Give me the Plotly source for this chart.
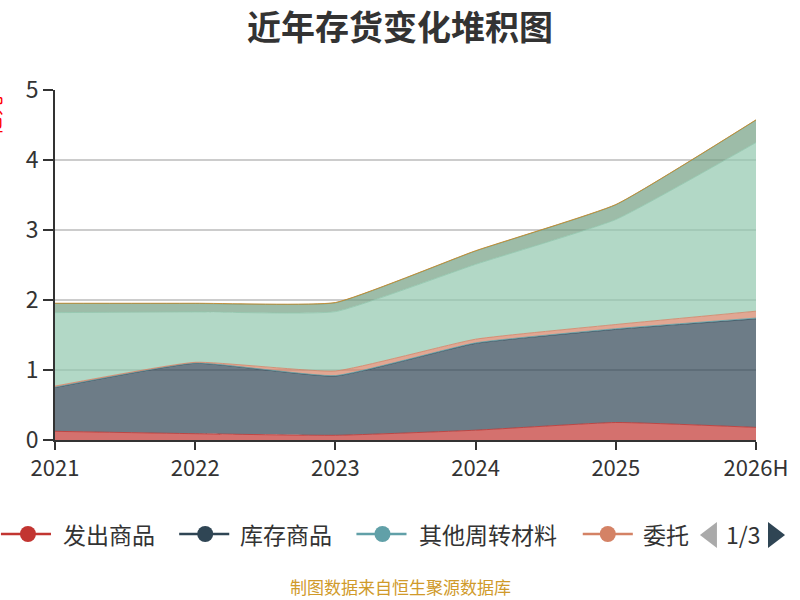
import plotly.graph_objects as go

# 数据
years = ["2021", "2022", "2023", "2024", "2025", "2026H"]
series_names = ["发出商品", "库存商品", "其他周转材料", "委托加工物资", "原材料", "在产品", "周转材料"]
series_colors = ["#c23531", "#2f4554", "#61a0a8", "#d48265", "#91c7ae", "#749f83", "#ca8622"]

fa_chu = [0.124, 0.09, 0.067, 0.14, 0.25, 0.18]
ku_cun = [0.626, 1.006, 0.847, 1.24, 1.33, 1.55]
qi_ta = [0.005, 0.004, 0.006, 0.008, 0.01, 0.012]
wei_tuo = [0.015, 0.01, 0.066, 0.052, 0.06, 0.098]
yuan_cai = [1.05, 0.72, 0.848, 1.07, 1.50, 2.41]
zai_chan = [0.13, 0.12, 0.126, 0.19, 0.21, 0.32]
zhou_zhuan = [0.004, 0.004, 0.004, 0.004, 0.004, 0.004]

series_values = [fa_chu, ku_cun, qi_ta, wei_tuo, yuan_cai, zai_chan, zhou_zhuan]

FONT = "Noto Sans CJK SC"


def rgba(hex_color, a):
    h = hex_color.lstrip("#")
    r, g, b = int(h[0:2], 16), int(h[2:4], 16), int(h[4:6], 16)
    return f"rgba({r},{g},{b},{a})"


fig = go.Figure()
for name, color, vals in zip(series_names, series_colors, series_values):
    fig.add_trace(go.Scatter(
        x=years, y=vals, name=name,
        mode="lines", stackgroup="one",
        line=dict(color=rgba(color, 0.8), width=1, shape="spline", smoothing=0.4),
        fillcolor=rgba(color, 0.7),
        showlegend=False,
    ))

# 页面实际渲染宽度约 785px
PAGE_W = 785
M_L, M_R, M_T, M_B = 55, 30, 90, 160
PLOT_W = PAGE_W - M_L - M_R


# 像素 -> paper 坐标
def px_x(px):
    return (px - M_L) / PLOT_W


def px_y(py):
    return (440 - py) / 350


shapes = []
annotations = []

# 手工图例 (第1页)
legend_y = 534
legend_items = [
    (1, 28, 61, series_names[0]),
    (179, 205, 238, series_names[1]),
    (356, 382, 416, series_names[2]),
    (582, 607, 640, series_names[3][:2]),
]
for i, (lx, cx, tx, label) in enumerate(legend_items):
    color = series_colors[i]
    shapes.append(dict(type="line", xref="paper", yref="paper",
                       x0=px_x(lx), x1=px_x(lx + 50), y0=px_y(legend_y), y1=px_y(legend_y),
                       line=dict(color=color, width=2.5)))
    shapes.append(dict(type="circle", xref="paper", yref="paper",
                       x0=px_x(cx - 8), x1=px_x(cx + 8), y0=px_y(legend_y + 8), y1=px_y(legend_y - 8),
                       fillcolor=color, line=dict(color=color, width=0)))
    annotations.append(dict(text=label, xref="paper", yref="paper",
                            x=px_x(tx), y=px_y(legend_y), xanchor="left", yanchor="middle",
                            showarrow=False, font=dict(family=FONT, size=23, color="#333")))

# 翻页箭头
shapes.append(dict(type="path", xref="paper", yref="paper",
                   path=f"M {px_x(716)} {px_y(522)} L {px_x(699)} {px_y(535)} L {px_x(716)} {px_y(548)} Z",
                   fillcolor="#aaaaaa", line=dict(width=0)))
shapes.append(dict(type="path", xref="paper", yref="paper",
                   path=f"M {px_x(767)} {px_y(522)} L {px_x(784)} {px_y(535)} L {px_x(767)} {px_y(548)} Z",
                   fillcolor="#2f4554", line=dict(width=0)))
annotations.append(dict(text="1/3", xref="paper", yref="paper",
                        x=px_x(743), y=px_y(legend_y), xanchor="center", yanchor="middle",
                        showarrow=False, font=dict(family=FONT, size=23, color="#333")))

# 标题
annotations.append(dict(text="<b>近年存货变化堆积图</b>", xref="paper", yref="paper",
                        x=px_x(400), y=px_y(25), xanchor="center", yanchor="middle",
                        showarrow=False, font=dict(family=FONT, size=34, color="#333")))

# 数据来源
annotations.append(dict(text="制图数据来自恒生聚源数据库", xref="paper", yref="paper",
                        x=px_x(400), y=px_y(586), xanchor="center", yanchor="middle",
                        showarrow=False, font=dict(family=FONT, size=17, color="#d09a2a")))

# y 轴名称 (被裁切)
annotations.append(dict(text="亿元", xref="paper", yref="paper",
                        x=px_x(-8), y=px_y(116), xanchor="center", yanchor="middle",
                        textangle=-90, showarrow=False,
                        font=dict(family=FONT, size=20, color="#ff0000")))

fig.update_layout(
    width=800, height=600,
    margin=dict(l=M_L, r=M_R, t=M_T, b=M_B),
    plot_bgcolor="white", paper_bgcolor="white",
    font=dict(family=FONT, color="#333"),
    shapes=shapes,
    annotations=annotations,
    xaxis=dict(
        type="category", range=[0, len(years) - 1],
        showline=True, linecolor="#333", linewidth=2,
        ticks="outside", ticklen=8, tickwidth=2, tickcolor="#333",
        showgrid=False, tickfont=dict(size=22, color="#333"),
    ),
    yaxis=dict(
        range=[0, 5], dtick=1,
        showline=True, linecolor="#333", linewidth=2,
        ticks="outside", ticklen=10, tickwidth=2, tickcolor="#333",
        showgrid=True, gridcolor="#cccccc", gridwidth=1.5,
        zeroline=False, tickfont=dict(size=23, color="#333"),
    ),
)

fig.write_html("out.html", config={"displayModeBar": False},
               post_script="document.body.style.margin='0';")
